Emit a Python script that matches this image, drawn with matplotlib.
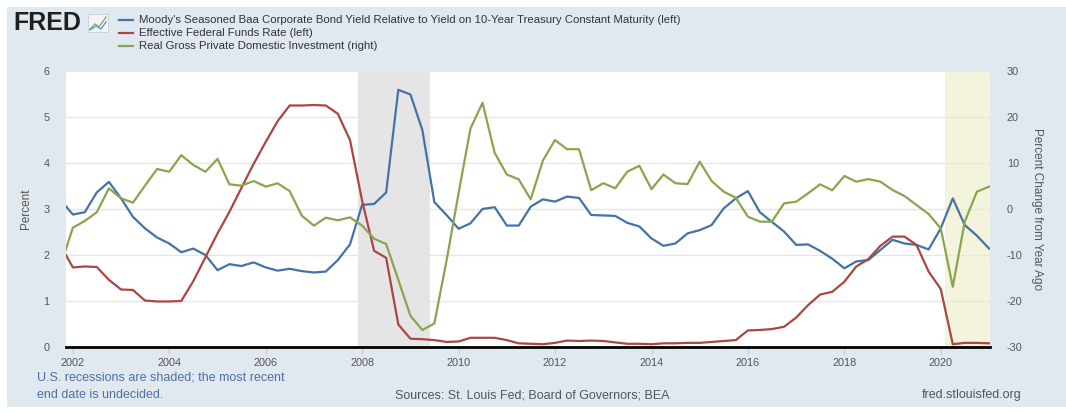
import matplotlib
matplotlib.use("Agg")
import matplotlib.pyplot as plt
from matplotlib.patches import Rectangle
from matplotlib.lines import Line2D
import pandas as pd
from datetime import datetime

plt.rcParams['font.family'] = ['Liberation Sans', 'DejaVu Sans']
plt.rcParams['axes.unicode_minus'] = False

# ---- data (quarterly, 2001Q4 .. 2021Q1) ----
dates = pd.date_range("2001-10-01", "2021-01-01", freq="QS")

baa_spread = [3.19, 2.88, 2.93, 3.36, 3.59, 3.23, 2.83, 2.58, 2.38, 2.25,
              2.06, 2.14, 2.00, 1.67, 1.80, 1.76, 1.84, 1.73, 1.66, 1.70,
              1.65, 1.62, 1.64, 1.89, 2.23, 3.09, 3.11, 3.36, 5.59, 5.49,
              4.72, 3.15, 2.87, 2.57, 2.69, 3.00, 3.04, 2.64, 2.64, 3.05,
              3.21, 3.16, 3.27, 3.24, 2.87, 2.86, 2.85, 2.70, 2.62, 2.36,
              2.20, 2.25, 2.47, 2.54, 2.65, 3.01, 3.23, 3.39, 2.93, 2.72,
              2.51, 2.22, 2.23, 2.09, 1.92, 1.71, 1.86, 1.89, 2.11, 2.33,
              2.25, 2.22, 2.12, 2.58, 3.23, 2.65, 2.42, 2.14]

fed_funds = [2.20, 1.73, 1.75, 1.74, 1.46, 1.25, 1.24, 1.01, 0.99, 0.99,
             1.00, 1.43, 1.95, 2.47, 2.94, 3.46, 3.98, 4.46, 4.91, 5.25,
             5.25, 5.26, 5.25, 5.07, 4.50, 3.18, 2.09, 1.94, 0.49, 0.18,
             0.17, 0.15, 0.11, 0.12, 0.20, 0.20, 0.20, 0.15, 0.08, 0.07,
             0.06, 0.09, 0.14, 0.13, 0.14, 0.13, 0.10, 0.07, 0.07, 0.06,
             0.08, 0.08, 0.09, 0.09, 0.11, 0.13, 0.15, 0.36, 0.37, 0.39,
             0.44, 0.64, 0.91, 1.14, 1.20, 1.42, 1.75, 1.91, 2.20, 2.40,
             2.40, 2.22, 1.64, 1.26, 0.06, 0.09, 0.09, 0.08]

gpdi_yoy = [-12.2, -4.06, -2.6, -0.72, 4.49, 2.32, 1.38, 5.07, 8.7, 8.1,
            11.7, 9.57, 8.1, 10.9, 5.36, 5.07, 6.09, 4.86, 5.58, 3.9,
            -1.45, -3.62, -1.88, -2.46, -1.81, -3.62, -6.45, -7.6, -15.4, -23.2,
            -26.3, -24.9, -11.3, 3.5, 17.5, 23.1, 12.2, 7.5, 6.45, 2.1,
            10.5, 15.0, 13.0, 13.0, 4.1, 5.6, 4.5, 8.1, 9.4, 4.3,
            7.5, 5.6, 5.4, 10.3, 6.1, 3.77, 2.46, -1.67, -2.75, -2.75,
            1.23, 1.59, 3.4, 5.36, 4.06, 7.17, 5.94, 6.5, 5.94, 4.13,
            2.83, 0.87, -1.09, -4.2, -16.9, -2.75, 3.77, 4.86]

series_names = [
    "Moody's Seasoned Baa Corporate Bond Yield Relative to Yield on 10-Year Treasury Constant Maturity (left)",
    "Effective Federal Funds Rate (left)",
    "Real Gross Private Domestic Investment (right)",
]
recessions = [("2007-12-01", "2009-06-01")]
recent_recession_start = "2020-02-01"
left_ticks = [0, 1, 2, 3, 4, 5, 6]
right_ticks = [-30, -20, -10, 0, 10, 20, 30]
year_ticks = list(range(2002, 2021, 2))

# ---- styling ----
BLUE, RED, GREEN = "#4572A7", "#AA4643", "#89A54E"
BG = "#E1E9F0"
TXT = "#555555"
W, H = 1066, 413

fig = plt.figure(figsize=(W / 100, H / 100), dpi=100)
fig.patch.set_facecolor("white")
fig.add_artist(Rectangle((7 / W, (H - 407) / H), (W - 7) / W, 400 / H,
                         transform=fig.transFigure, facecolor=BG,
                         edgecolor="none", zorder=-10))

ax = fig.add_axes([66 / W, (H - 347) / H, (990 - 66) / W, (347 - 71) / H])
ax.set_facecolor("white")
xmin, xmax = datetime(2001, 11, 10), datetime(2021, 1, 8)

for s, e in recessions:
    ax.axvspan(pd.Timestamp(s), pd.Timestamp(e), color="#E5E5E5", lw=0, zorder=0)
ax.axvspan(pd.Timestamp(recent_recession_start), xmax, color="#F4F4DC", lw=0, zorder=0)

ax.set_ylim(0, 6)
ax.set_yticks(left_ticks)
ax.yaxis.grid(True, color="#E6E6E6", lw=1)
ax.set_axisbelow(True)
ax.plot(dates, baa_spread, color=BLUE, lw=1.6, zorder=3, solid_joinstyle="round")
ax.plot(dates, fed_funds, color=RED, lw=1.6, zorder=3, solid_joinstyle="round")

ax2 = ax.twinx()
ax2.set_ylim(-30, 30)
ax2.set_yticks(right_ticks)
ax2.plot(dates, gpdi_yoy, color=GREEN, lw=1.6, zorder=3, solid_joinstyle="round")

ax.set_xlim(xmin, xmax)
ax.set_xticks([datetime(y, 1, 1) for y in year_ticks])
ax.set_xticklabels([str(y) for y in year_ticks])

for a in (ax, ax2):
    for sp in a.spines.values():
        sp.set_visible(False)
ax.spines["bottom"].set_visible(True)
ax.spines["bottom"].set_color("black")
ax.spines["bottom"].set_linewidth(2)
ax.spines["bottom"].set_zorder(5)

ax.tick_params(axis="x", length=5, width=1, color="#C0D0E0", labelsize=7.8,
               labelcolor=TXT, pad=3)
ax.tick_params(axis="y", length=0, labelsize=7.8, labelcolor=TXT, pad=12)
ax2.tick_params(axis="y", length=0, labelsize=7.8, labelcolor=TXT, pad=12)

ax.set_ylabel("Percent", color=TXT, fontsize=8.5, labelpad=8)
ax2.set_ylabel("Percent Change from Year Ago", color=TXT, fontsize=8.5,
               rotation=270, labelpad=15)

# ---- header: logo + legend ----
fig.text(13 / W, 1 - 23 / H, "FRED", fontsize=18, fontweight="bold",
         color="#1F1F1F", va="center", ha="left")
fig.add_artist(Rectangle((88 / W, 1 - 32 / H), 20 / W, 18 / H,
                         transform=fig.transFigure, facecolor="#F2F4F6",
                         edgecolor="#C8D0D8", lw=0.6))
fig.add_artist(Line2D([90 / W, 95 / W, 99 / W, 106 / W],
                      [1 - 29 / H, 1 - 24 / H, 1 - 27 / H, 1 - 17 / H],
                      transform=fig.transFigure, color="#7FB36A", lw=1.0))
fig.add_artist(Line2D([90 / W, 96 / W, 101 / W, 106 / W],
                      [1 - 30 / H, 1 - 26 / H, 1 - 29 / H, 1 - 22 / H],
                      transform=fig.transFigure, color="#6C9BC9", lw=1.0))

for i, (name, col) in enumerate(zip(series_names, [BLUE, RED, GREEN])):
    yy = 1 - (20 + 13 * i) / H
    fig.add_artist(Line2D([119 / W, 133 / W], [yy, yy], transform=fig.transFigure,
                          color=col, lw=1.6))
    fig.text(139 / W, yy, name, fontsize=8.2, color="#333333", va="center", ha="left")

# ---- footer ----
fig.text(37 / W, 1 - 378 / H, "U.S. recessions are shaded; the most recent",
         fontsize=9, color="#4D6FA5", va="center", ha="left")
fig.text(37 / W, 1 - 395 / H, "end date is undecided.",
         fontsize=9, color="#4D6FA5", va="center", ha="left")
fig.text(532 / W, 1 - 395 / H, "Sources: St. Louis Fed; Board of Governors; BEA",
         fontsize=9, color=TXT, va="center", ha="center")
fig.text(1022 / W, 1 - 395 / H, "fred.stlouisfed.org",
         fontsize=9, color=TXT, va="center", ha="right")

fig.savefig("out.png", dpi=100, facecolor=fig.get_facecolor())
